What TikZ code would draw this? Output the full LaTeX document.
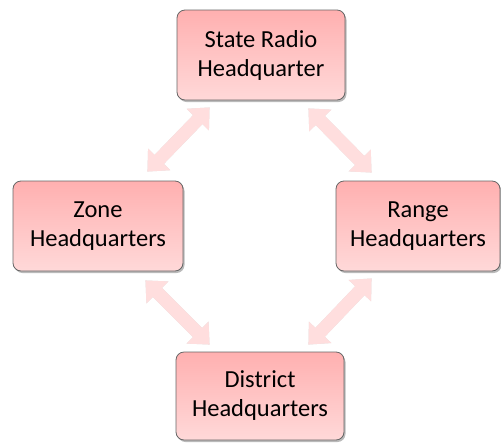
\documentclass[tikz,border=0pt]{standalone}
\usepackage{fontspec}
\setmainfont{Carlito}
\usetikzlibrary{arrows.meta,shadows,calc}

\begin{document}
\begin{tikzpicture}[x=1pt,y=-1pt]
      \tikzstyle{hq}=[rectangle,rounded corners=8pt,draw=black!60,line width=0.8pt,
        top color=red!31,bottom color=red!15,align=center,inner sep=0pt,
        font=\fontsize{24.5}{29}\selectfont,
        drop shadow={shadow xshift=1.5pt,shadow yshift=-2pt,fill=black!45,opacity=0.6}]
      \tikzstyle{link}=[line width=13pt,draw=red!13,
        {Triangle[width=30pt,length=17pt]}-{Triangle[width=30pt,length=17pt]}]
      \tikzstyle{linkshade}=[line width=13pt,draw=black!12,
        {Triangle[width=30pt,length=17pt]}-{Triangle[width=30pt,length=17pt]}]

      \useasboundingbox (0,0) rectangle (501,445);

      \node[hq,minimum width=168pt,minimum height=90pt] (state) at (261,55) {State Radio\\Headquarter};
      \node[hq,minimum width=170pt,minimum height=90pt] (zone) at (98,226) {Zone\\Headquarters};
      \node[hq,minimum width=164pt,minimum height=90pt] (range) at (418,226) {Range\\Headquarters};
      \node[hq,minimum width=168pt,minimum height=88pt] (district) at (260,396) {District\\Headquarters};

      % arrow ends, kept a little off the boxes
      \coordinate (sz) at ($(state.south west)+(33,7)$);
      \coordinate (zs) at ($(zone.north east)+(-36,-9)$);
      \coordinate (sr) at ($(state.south east)+(-37,8)$);
      \coordinate (rs) at ($(range.north west)+(36,-8)$);
      \coordinate (zd) at ($(zone.south east)+(-38,9)$);
      \coordinate (dz) at ($(district.north west)+(34,-7)$);
      \coordinate (rd) at ($(range.south west)+(36,7)$);
      \coordinate (dr) at ($(district.north east)+(-36,-7)$);

      \begin{scope}[xshift=1.2pt,yshift=-1.2pt]
        \draw[linkshade] (sz) -- (zs);
        \draw[linkshade] (sr) -- (rs);
        \draw[linkshade] (zd) -- (dz);
        \draw[linkshade] (rd) -- (dr);
      \end{scope}
      \draw[link] (sz) -- (zs);
      \draw[link] (sr) -- (rs);
      \draw[link] (zd) -- (dz);
      \draw[link] (rd) -- (dr);
\end{tikzpicture}
\end{document}
